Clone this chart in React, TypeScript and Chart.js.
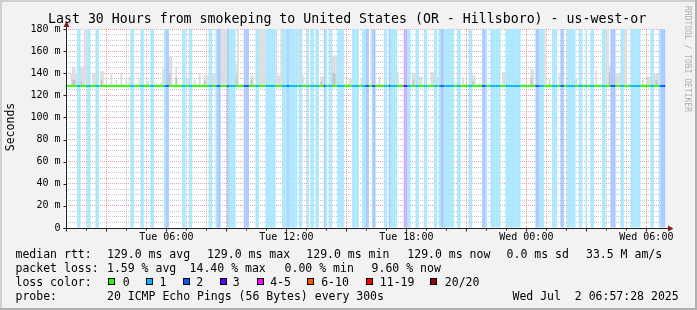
import React, { useEffect, useRef } from 'react';
import { Chart, registerables } from 'chart.js';

Chart.register(...registerables);

// ---------- data ----------
// time axis in hours since Tue 00:00
const startHour = 0.9578; // Tue 00:57:28
const endHour = 30.9578; // Wed 06:57:28
const stepMinutes = 5;
const stepCount = 360;
const medianRtt = 129.0;

const xTickHours = [6, 12, 18, 24, 30];
const xTickLabels = ['Tue 06:00', 'Tue 12:00', 'Tue 18:00', 'Wed 00:00', 'Wed 06:00'];
const yTickValues = [0, 20, 40, 60, 80, 100, 120, 140, 160, 180];
const yTickLabels = ['0', '20 m', '40 m', '60 m', '80 m', '100 m', '120 m', '140 m', '160 m', '180 m'];

// packet-loss runs: first step, number of steps, lost pings
const lossStart = [7, 13, 18, 39, 45, 51, 59, 60, 70, 74, 86, 90, 91, 97, 98, 107, 114, 120, 130, 133, 134, 140, 145, 147, 150, 155, 156, 158, 163, 172, 178, 180, 184, 191, 194, 195, 203, 205, 210, 215, 221, 224, 225, 227, 235, 242, 250, 252, 255, 264, 282, 284, 292, 297, 301, 308, 312, 315, 322, 327, 333, 339, 351, 356, 357];
const lossLength = [2, 2, 2, 2, 2, 2, 1, 2, 2, 2, 2, 1, 2, 1, 4, 3, 2, 6, 3, 1, 5, 2, 1, 2, 2, 1, 1, 2, 4, 4, 2, 2, 2, 2, 1, 4, 2, 2, 2, 2, 2, 1, 2, 6, 2, 2, 2, 1, 6, 9, 2, 3, 3, 2, 5, 2, 1, 2, 2, 3, 2, 6, 2, 1, 3];
const lossLevel = [1, 1, 1, 1, 1, 1, 1, 2, 1, 1, 1, 1, 2, 2, 1, 2, 1, 1, 1, 2, 1, 1, 1, 1, 1, 2, 1, 1, 1, 1, 1, 2, 2, 1, 2, 1, 3, 1, 1, 1, 1, 1, 2, 1, 1, 1, 2, 1, 1, 1, 2, 1, 1, 2, 1, 1, 1, 1, 1, 2, 1, 1, 1, 1, 2];

// light smoke runs: first step, number of steps, highest ping (ms)
const smokeStart = [3, 4, 6, 9, 11, 16, 21, 24, 27, 30, 33, 36, 38, 44, 49, 57, 58, 62, 66, 72, 77, 80, 83, 88, 93, 102, 103, 111, 116, 126, 127, 129, 139, 142, 144, 153, 160, 170, 177, 183, 188, 199, 208, 212, 219, 223, 232, 238, 244, 248, 262, 270, 279, 287, 290, 296, 306, 318, 324, 326, 330, 335, 346, 349, 353, 359];
const smokeLength = [1, 2, 1, 2, 2, 2, 2, 1, 1, 1, 1, 1, 1, 1, 1, 1, 1, 2, 1, 2, 1, 1, 3, 2, 4, 1, 1, 2, 4, 1, 2, 1, 1, 1, 1, 2, 3, 2, 1, 1, 1, 1, 2, 2, 2, 1, 1, 1, 2, 1, 2, 1, 2, 1, 1, 1, 1, 1, 2, 1, 3, 2, 1, 2, 3, 1];
const smokeTop = [139, 145, 140, 146, 200, 139, 142, 136, 139, 134, 140, 135, 137, 135, 133, 131, 144, 155, 145, 135, 134, 140, 138, 140, 200, 148, 200, 138, 200, 200, 138, 200, 200, 138, 135, 137, 156, 135, 135, 200, 137, 141, 139, 137, 141, 137, 134, 136, 138, 131, 141, 136, 144, 200, 135, 140, 135, 143, 200, 146, 140, 200, 134, 137, 140, 138];

// darker smoke runs (inner percentiles)
const darkStart = [4, 9, 21, 62, 66, 83, 102, 111, 153, 160, 208, 244, 279, 326, 354];
const darkLength = [2, 1, 1, 1, 1, 1, 1, 1, 1, 2, 1, 1, 1, 1, 1];
const darkTop = [134, 133, 134, 140, 136, 133, 137, 134, 133, 140, 134, 133, 136, 140, 134];

// legend
const lossLegendLabels = ['0', '1', '2', '3', '4-5', '6-10', '11-19', '20/20'];
const lossLegendColors = ['#26ff00', '#00b8ff', '#0059ff', '#5e00ff', '#ff00ff', '#ff5500', '#ff0000', '#a10000'];
const medianStats = ['129.0 ms avg', '129.0 ms max', '129.0 ms min', '129.0 ms now', '0.0 ms sd', '33.5 M am/s'];
const lossStats = ['1.59 % avg', '14.40 % max', '0.00 % min', '9.60 % now'];
const probeText = '20 ICMP Echo Pings (56 Bytes) every 300s';
const stampText = 'Wed Jul  2 06:57:28 2025';
const titleText = 'Last 30 Hours from smokeping to United States (OR - Hillsboro) - us-west-or';

// ---------- styles / layout ----------
const MONO = '"DejaVu Sans Mono", monospace';
const bandColors = ['rgba(0,0,0,0)', '#aae7ff', '#aac8ff', '#c9aaff'];
const minorGrid = 'rgba(143,143,143,0.5)';
const majorGrid = 'rgba(222,79,79,0.55)';
const medianBelow = 1.45; // line thickness below the median, ms
const medianAbove = 0.35; // line thickness above the median, ms
const medianStatX = [107, 207, 306.3, 407.3, 506.6, 586];
const lossStatX = [107, 189.6, 284.6, 371.6];
const boxX = [108.3, 145.7, 182.7, 220, 256.7, 306.7, 366, 430.3];
const boxLabelX = [122.8, 159.5, 196.2, 232.8, 270.2, 321.2, 379.8, 444.8];
const rowBaseline = [257.5, 271.7, 285.8, 300];

// ---------- build series ----------
function expandRuns(starts: number[], lengths: number[], values: number[]) {
  const out: (number | null)[] = new Array(stepCount).fill(null);
  starts.forEach((s, k) => {
    for (let j = 0; j < lengths[k]; j++) if (s + j < stepCount) out[s + j] = values[k];
  });
  return out;
}
const stepCenter = (i: number) => startHour + ((i + 0.5) * stepMinutes) / 60;

const lossPerStep = expandRuns(lossStart, lossLength, lossLevel);
const smokePerStep = expandRuns(smokeStart, smokeLength, smokeTop);
const darkPerStep = expandRuns(darkStart, darkLength, darkTop);

function bandData(level: number) {
  const out: any[] = [];
  lossPerStep.forEach((l, i) => {
    if (l === level) out.push({ x: stepCenter(i), y: [0, 180] });
  });
  return out;
}
function smokeData(arr: (number | null)[]) {
  const out: any[] = [];
  arr.forEach((t, i) => {
    if (t !== null) out.push({ x: stepCenter(i), y: [medianRtt - 0.5, t] });
  });
  return out;
}
const medianData = lossPerStep.map((_, i) => ({ x: stepCenter(i), y: [medianRtt - medianBelow, medianRtt + medianAbove] }));
const medianColors = lossPerStep.map((l) => lossLegendColors[l ?? 0]);

const barCommon = {
  grouped: false,
  categoryPercentage: 1,
  barPercentage: 1.06,
  borderWidth: 0,
  clip: 0,
};

const xTicks: number[] = [];
for (let h = Math.ceil(startHour); h <= Math.floor(endHour); h++) xTicks.push(h);
const yTicks: number[] = [];
for (let v = 0; v <= 180; v += 5) yTicks.push(v);

const plotBackground = {
  id: 'plotBackground',
  beforeDraw(chart: any) {
    const { ctx, chartArea: a } = chart;
    ctx.save();
    ctx.fillStyle = '#ffffff';
    ctx.fillRect(a.left, a.top, a.right - a.left, a.bottom - a.top);
    ctx.restore();
  },
};

const rrdAxes = {
  id: 'rrdAxes',
  afterDraw(chart: any) {
    const { ctx, chartArea: a } = chart;
    const x0 = Math.round(a.left) + 0.5;
    const y0 = Math.round(a.bottom) + 0.5;
    ctx.save();
    ctx.strokeStyle = '#1f1f1f';
    ctx.lineWidth = 1;
    ctx.beginPath();
    ctx.moveTo(x0 - 3, y0);
    ctx.lineTo(a.right + 4, y0);
    ctx.moveTo(x0, y0 + 3);
    ctx.lineTo(x0, a.top - 5);
    const ys = chart.scales.y;
    yTickValues.forEach((v) => {
      const py = Math.round(ys.getPixelForValue(v)) + 0.5;
      ctx.moveTo(x0 - 3, py);
      ctx.lineTo(x0, py);
    });
    const xs = chart.scales.x;
    xTicks.forEach((h) => {
      const px = Math.round(xs.getPixelForValue(h)) + 0.5;
      ctx.moveTo(px, y0);
      ctx.lineTo(px, y0 + (h % 3 === 0 ? 3 : 2));
    });
    ctx.stroke();
    ctx.fillStyle = '#801f1f';
    ctx.beginPath();
    ctx.moveTo(a.right + 2.5, y0 - 3);
    ctx.lineTo(a.right + 8, y0);
    ctx.lineTo(a.right + 2.5, y0 + 3);
    ctx.closePath();
    ctx.fill();
    ctx.beginPath();
    ctx.moveTo(x0 - 3, a.top - 2);
    ctx.lineTo(x0, a.top - 8);
    ctx.lineTo(x0 + 3, a.top - 2);
    ctx.closePath();
    ctx.fill();
    ctx.restore();
  },
};

function Txt(props: { x: number; baseline: number; size?: number; children: React.ReactNode; color?: string }) {
  const size = props.size ?? 11.5;
  const lh = 14;
  const top = props.baseline - ((lh - size * 1.164) / 2 + size * 0.928);
  return (
    <div
      style={{
        position: 'absolute',
        left: props.x,
        top,
        fontFamily: MONO,
        fontSize: size,
        lineHeight: lh + 'px',
        whiteSpace: 'pre',
        color: props.color ?? '#000',
      }}
    >
      {props.children}
    </div>
  );
}

export default function App() {
  const ref = useRef<HTMLCanvasElement | null>(null);

  useEffect(() => {
    const canvas = ref.current;
    if (!canvas) return;
    const chart = new Chart(canvas, {
      type: 'bar',
      data: {
        datasets: [
          { label: 'median', data: medianData, backgroundColor: medianColors, order: 0, ...barCommon } as any,
          { label: 'loss1', data: bandData(1), backgroundColor: bandColors[1], order: 1, ...barCommon } as any,
          { label: 'loss2', data: bandData(2), backgroundColor: bandColors[2], order: 1, ...barCommon } as any,
          { label: 'loss3', data: bandData(3), backgroundColor: bandColors[3], order: 1, ...barCommon } as any,
          { label: 'smokeDark', data: smokeData(darkPerStep), backgroundColor: '#c4c4c4', order: 2, ...barCommon } as any,
          { label: 'smoke', data: smokeData(smokePerStep), backgroundColor: '#dcdcdc', order: 3, ...barCommon } as any,
        ],
      },
      options: {
        animation: false,
        responsive: false,
        devicePixelRatio: 1,
        events: [],
        layout: { padding: { left: 0, right: 31.5, top: 29, bottom: 0 } },
        plugins: {
          legend: { display: false },
          tooltip: { enabled: false },
          title: { display: false },
        },
        scales: {
          x: {
            type: 'linear',
            min: startHour,
            max: endHour,
            offset: false,
            z: 1,
            afterBuildTicks: (s: any) => {
              s.ticks = xTicks.map((v) => ({ value: v }));
            },
            afterFit: (s: any) => {
              s.height = 82;
            },
            grid: {
              offset: false,
              drawTicks: false,
              lineWidth: 1,
              color: (c: any) => (c.tick && c.tick.value % 3 === 0 ? majorGrid : minorGrid),
            },
            border: { display: false, dash: [1, 1] },
            ticks: {
              autoSkip: false,
              maxRotation: 0,
              minRotation: 0,
              padding: 3.5,
              color: '#000',
              font: { family: MONO, size: 10 },
              callback: (v: any) => {
                const k = xTickHours.indexOf(Number(v));
                return k >= 0 ? xTickLabels[k] : '';
              },
            },
          },
          y: {
            type: 'linear',
            min: 0,
            max: 180,
            z: 1,
            afterBuildTicks: (s: any) => {
              s.ticks = yTicks.map((v) => ({ value: v }));
            },
            afterFit: (s: any) => {
              s.width = 65.5;
            },
            grid: {
              drawTicks: false,
              lineWidth: 1,
              color: (c: any) => (c.tick && c.tick.value % 20 === 0 ? majorGrid : minorGrid),
            },
            border: { display: false, dash: [1, 1] },
            ticks: {
              autoSkip: false,
              padding: 5,
              color: '#000',
              font: { family: MONO, size: 10 },
              callback: (v: any) => {
                const k = yTickValues.indexOf(Number(v));
                return k >= 0 ? yTickLabels[k] : '';
              },
            },
          },
        },
      } as any,
      plugins: [plotBackground, rrdAxes],
    });
    return () => chart.destroy();
  }, []);

  return (
    <div
      style={{
        position: 'fixed',
        left: 0,
        top: 0,
        width: 697,
        height: 310,
        background: '#f2f2f2',
        overflow: 'hidden',
      }}
    >
      <canvas ref={ref} width={697} height={310} style={{ position: 'absolute', left: 0, top: 0, width: 697, height: 310 }} />
      {/* frame */}
      <div style={{ position: 'absolute', left: 0, top: 0, width: 697, height: 2, background: '#cfcfcf' }} />
      <div style={{ position: 'absolute', left: 0, top: 0, width: 2, height: 310, background: '#cfcfcf' }} />
      <div style={{ position: 'absolute', left: 0, top: 308, width: 697, height: 2, background: '#b0b0b0' }} />
      <div style={{ position: 'absolute', left: 695, top: 0, width: 2, height: 310, background: '#b0b0b0' }} />

      {/* title */}
      <div
        style={{
          position: 'absolute',
          left: 48,
          top: 11.4,
          fontFamily: MONO,
          fontSize: 13.25,
          lineHeight: '16px',
          whiteSpace: 'pre',
          color: '#000',
        }}
      >
        {titleText}
      </div>

      {/* y axis title */}
      <div
        style={{
          position: 'absolute',
          left: 10,
          top: 126.5,
          transform: 'translate(-50%, -50%) rotate(-90deg)',
          fontFamily: MONO,
          fontSize: 11.5,
          lineHeight: '14px',
          whiteSpace: 'pre',
          color: '#000',
        }}
      >
        Seconds
      </div>

      {/* watermark */}
      <div
        style={{
          position: 'absolute',
          left: 686.5,
          top: 59,
          transform: 'translate(-50%, -50%) rotate(90deg)',
          fontFamily: MONO,
          fontSize: 8,
          lineHeight: '9px',
          whiteSpace: 'pre',
          color: 'rgba(0,0,0,0.3)',
        }}
      >
        RRDTOOL / TOBI OETIKER
      </div>

      {/* legend */}
      <Txt x={15.5} baseline={rowBaseline[0]}>median rtt:</Txt>
      {medianStats.map((s, k) => (
        <Txt key={'m' + k} x={medianStatX[k]} baseline={rowBaseline[0]}>
          {s}
        </Txt>
      ))}
      <Txt x={15.5} baseline={rowBaseline[1]}>packet loss:</Txt>
      {lossStats.map((s, k) => (
        <Txt key={'l' + k} x={lossStatX[k]} baseline={rowBaseline[1]}>
          {s}
        </Txt>
      ))}
      <Txt x={15.5} baseline={rowBaseline[2]}>loss color:</Txt>
      {lossLegendLabels.map((s, k) => (
        <React.Fragment key={'c' + k}>
          <div
            style={{
              position: 'absolute',
              left: boxX[k],
              top: 277.5,
              width: 5,
              height: 5,
              border: '1px solid #000',
              background: lossLegendColors[k],
            }}
          />
          <Txt x={boxLabelX[k]} baseline={rowBaseline[2]}>
            {s}
          </Txt>
        </React.Fragment>
      ))}
      <Txt x={15.5} baseline={rowBaseline[3]}>probe:</Txt>
      <Txt x={107} baseline={rowBaseline[3]}>{probeText}</Txt>
      <Txt x={512.5} baseline={rowBaseline[3]}>{stampText}</Txt>
    </div>
  );
}
